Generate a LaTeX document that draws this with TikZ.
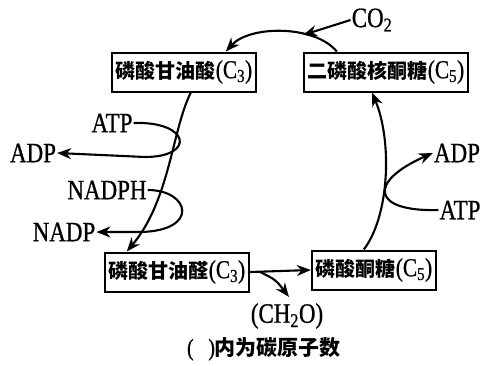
\documentclass[tikz,border=0pt]{standalone}
\usepackage{fontspec}
\setmainfont{Liberation Serif}[FakeStretch=0.82, FakeBold=0.8]
\newfontfamily\cjk{Noto Sans CJK SC}
\newcommand{\zh}[1]{{\cjk\bfseries\fontsize{20}{22}\selectfont #1}}
\usepackage{tikz}
\usetikzlibrary{calc, arrows.meta}

\tikzset{
    box/.style={draw, line width=2, inner xsep=4, inner ysep=2, minimum height=39, font=\fontsize{26}{28}\selectfont},
    lab/.style={inner sep=1, font=\fontsize{28}{30}\selectfont},
    flow/.style={-{Stealth[length=14,width=11]}, line width=2.1},
}

\begin{document}
\begin{tikzpicture}[x=1pt, y=-1pt]
        \useasboundingbox (0,0) rectangle (489,365);
        % boxes
        \node [box] (pga)  at (184,72)  {\zh{磷酸甘油酸}(C\textsubscript{3})};
        \node [box] (rubp) at (386,72)  {\zh{二磷酸核酮糖}(C\textsubscript{5})};
        \node [box] (gal)  at (177,272) {\zh{磷酸甘油醛}(C\textsubscript{3})};
        \node [box] (rup)  at (374,270) {\zh{磷酸酮糖}(C\textsubscript{5})};
        
        % labels
        \node [lab] (co2)   at (372,20)  {CO\textsubscript{2}};
        \node [lab] (atpL)  at (112,123) {ATP};
        \node [lab] (adpL)  at (33,153)  {ADP};
        \node [lab] (nadph) at (107,190) {NADPH};
        \node [lab] (nadp)  at (64,232)  {NADP};
        \node [lab] (adpR)  at (457,153) {ADP};
        \node [lab] (atpR)  at (460,210) {ATP};
        \node [lab] (ch2o)  at (287,316) {(CH\textsubscript{2}O)};
        \node [lab, font=\fontsize{24}{26}\selectfont] (note) at (264,349) {(\ \ \ ){\cjk\bfseries\fontsize{21}{23}\selectfont 内为碳原子数}};
        
        \coordinate (fix) at (303,35);
        \coordinate (out) at (289,297);
        
        % cycle
        \draw [flow] ([xshift=34]rubp.north west) .. controls (315,25) and (250,25) .. ([xshift=115]pga.north west);
        \draw [flow] (co2.west) -- (fix);
        \draw [flow] ([xshift=80]pga.south west) .. controls (172,130) and (170,200) .. ([xshift=23]gal.north west);
        \draw [flow] (gal.east) -- (rup.west);
        \draw [flow] ([xshift=10]gal.east) .. controls (276,280) .. (out);
        \draw [flow] ([xshift=53]rup.north west) .. controls (390,215) and (392,140) .. ([xshift=-14]rubp.south);
        
        % energy
        \draw [flow] (atpL.east) .. controls (190,121) and (196,157) .. (145,157) -- (adpL.east);
        \draw [flow] (nadph.east) .. controls (190,190) and (200,231) .. (140,232) -- (nadp.east);
        \draw [flow] (atpR.west) .. controls (372,212) and (367,182) .. (adpR.west);
    \end{tikzpicture}
\end{document}
